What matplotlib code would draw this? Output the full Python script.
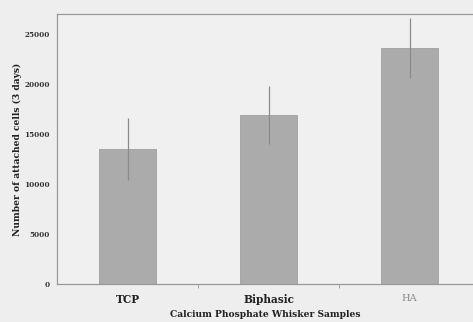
import matplotlib
matplotlib.use("Agg")
import matplotlib.pyplot as plt
import numpy as np

categories = ["TCP", "Biphasic", "HA"]
values = [13500, 16900, 23600]
errors = [3100, 2900, 3000]
yticks = [0, 5000, 10000, 15000, 20000, 25000]

plt.rcParams['font.family'] = ['DejaVu Serif']

fig = plt.figure(figsize=(4.73, 3.22), dpi=100, facecolor='#eeeeee')
ax = fig.add_axes([0.1205, 0.118, 0.8795, 0.8385])
ax.set_facecolor('#f0f0f0')

x = np.arange(len(categories))
ax.bar(x, values, width=0.41, color='#ababab', edgecolor='#a0a0a0', linewidth=0.6, zorder=2)
ax.errorbar(x, values, yerr=errors, fmt='none', ecolor='#8a8a8a', elinewidth=0.9,
            capsize=0, zorder=3)

ax.set_xlim(-0.5, 2.45)
ax.set_ylim(0, 27050)
ax.set_yticks(yticks)
ax.set_yticklabels([str(v) for v in yticks], fontsize=5.2, fontweight='bold', color='#333333')
ax.tick_params(axis='y', length=0, pad=5)

ax.set_xticks(x)
ax.set_xticklabels(categories, fontsize=7.6, fontweight='bold', color='#222222')
ax.get_xticklabels()[2].set_color('#8a8a8a')
ax.get_xticklabels()[2].set_fontweight('normal')
ax.get_xticklabels()[2].set_fontsize(7)
ax.set_xticks([0.5, 1.5], minor=True)
ax.tick_params(axis='x', which='major', length=0, pad=7)
ax.tick_params(axis='x', which='minor', length=3, width=0.6, color='#999999')

ax.set_xlabel("Calcium Phosphate Whisker Samples", fontsize=6.6, fontweight='bold',
              color='#222222', labelpad=4)
ax.set_ylabel("Number of attached cells (3 days)", fontsize=6.6, fontweight='bold',
              color='#222222', labelpad=2)

for side in ['left', 'top', 'bottom']:
    ax.spines[side].set_color('#999999')
    ax.spines[side].set_linewidth(0.9)
ax.spines['right'].set_visible(False)

fig.savefig("out.png", dpi=100, facecolor=fig.get_facecolor())
